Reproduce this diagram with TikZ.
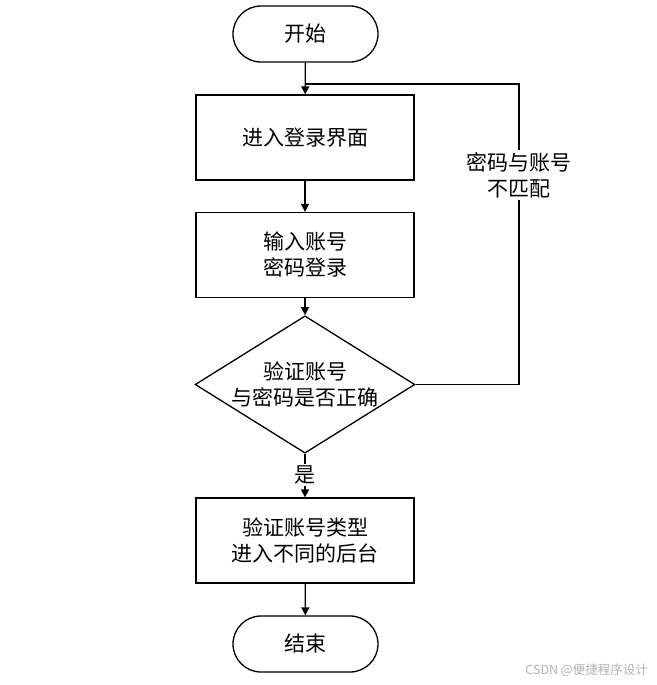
\documentclass[tikz,border=0pt]{standalone}
\usepackage{fontspec}
\setmainfont{Noto Sans CJK SC}
\usetikzlibrary{shapes.geometric,arrows.meta}
\tikzset{
  base/.style={draw=black, line width=1.3pt, align=center, font=\fontsize{21}{26}\selectfont, text=black},
  procbox/.style={base, rectangle, minimum width=218pt, minimum height=85pt, inner sep=0pt},
  term/.style={base, rectangle, rounded corners=28pt, minimum width=145pt, minimum height=56pt, inner sep=0pt},
  decision/.style={base, diamond, aspect=1.6, minimum width=218pt, minimum height=135pt, inner sep=0pt},
  conn/.style={draw=black, line width=1.3pt},
  arr/.style={conn, -{Triangle[length=8pt,width=8pt]}},
  lbl/.style={fill=white, text=black, align=center, font=\fontsize{21}{26}\selectfont, inner sep=2pt}
}
\begin{document}
\begin{tikzpicture}[x=1pt,y=-1pt]
\useasboundingbox (0,0) rectangle (656,685);
\node[term] (start) at (305.5,34) {开始};
\node[procbox] (b1) at (305,137.5) {进入登录界面};
\node[procbox] (b2) at (305,255) {输入账号\\密码登录};
\node[decision] (dec) at (305,384.5) {验证账号\\与密码是否正确};
\node[procbox] (b3) at (305,540.5) {验证账号类型\\进入不同的后台};
\node[term] (end) at (305.5,644) {结束};
\coordinate (c1) at (519,84);
\coordinate (j) at (305,84);
\draw[arr] (start) -- (b1);
\draw[arr] (b1) -- (b2);
\draw[arr] (b2) -- (dec);
\draw[arr] (dec) -- (b3);
\draw[arr] (b3) -- (end);
\draw[conn] (dec.east) -| (c1) -- (j);
\node[lbl] (nomatch) at (519,175) {密码与账号\\不匹配};
\node[lbl] (yes) at (305,475) {是};
\node[text=black!30, font=\fontsize{12.5}{14}\selectfont, anchor=east, inner sep=0pt] (wm) at (648,670) {CSDN @便捷程序设计};
\end{tikzpicture}
\end{document}
